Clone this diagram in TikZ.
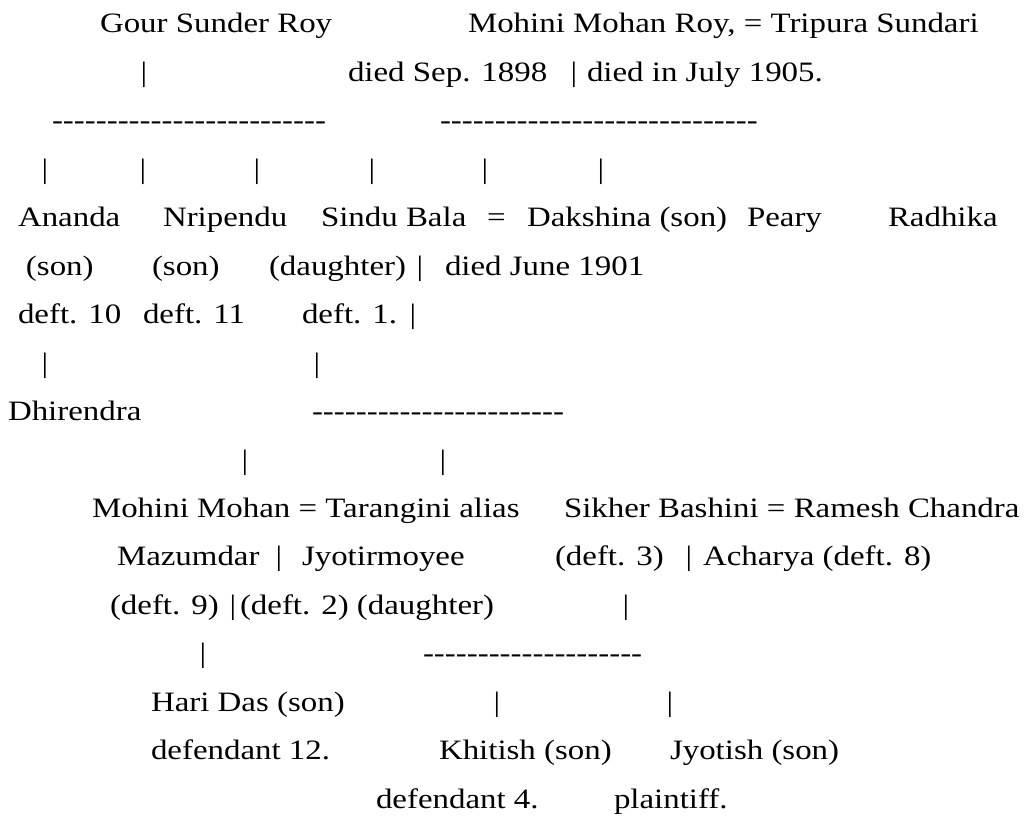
\documentclass[tikz,border=0pt]{standalone}
\usepackage{fontspec}
\newfontfamily\treefont{Liberation Serif}[FakeStretch=1.172]
\begin{document}
\begin{tikzpicture}[x=.75pt,y=-.75pt,font=\treefont\fontsize{21.06}{25}\selectfont,
  every node/.style={inner sep=0pt,outer sep=0pt},
  entry/.style={anchor=base west},vbar/.style={anchor=base}]
  \path[fill=white,use as bounding box] (0,0) rectangle (1024,817);
  \node[entry] (gour) at (100,33) {Gour Sunder Roy};
  \node[entry] (mohini) at (468,33) {Mohini Mohan Roy, = Tripura Sundari};
  \node[vbar] (gourbar) at (144,81.4) {|};
  \node[entry] (mohdied) at (348,81.4) {died Sep. 1898};
  \node[vbar] (mohbar) at (574,81.4) {|};
  \node[entry] (tripdied) at (587,81.4) {died in July 1905.};
  \node[entry] (gourline) at (52,129.9) {-------------------------};
  \node[entry] (mohline) at (440,129.9) {-----------------------------};
  \foreach \x/\n in {45/a,143/b,257/c,372/d,485/e,601/f}
    \node[vbar] (kid\n) at (\x,178.3) {|};
  \node[entry] (ananda) at (18,226.8) {Ananda};
  \node[entry] (nripendu) at (163,226.8) {Nripendu};
  \node[entry] (sindu) at (321,226.8) {Sindu Bala};
  \node[entry] (sindueq) at (487,226.8) {=};
  \node[entry] (dakshina) at (527,226.8) {Dakshina (son)};
  \node[entry] (peary) at (747,226.8) {Peary};
  \node[entry] (radhika) at (888,226.8) {Radhika};
  \node[entry] (anandason) at (26,275.2) {(son)};
  \node[entry] (nripson) at (152,275.2) {(son)};
  \node[entry] (sindudau) at (269,275.2) {(daughter)};
  \node[vbar] (sindubar) at (420,275.2) {|};
  \node[entry] (dakdied) at (445,275.2) {died June 1901};
  \node[entry] (anandadeft) at (18,323.6) {deft. 10};
  \node[entry] (nripdeft) at (143,323.6) {deft. 11};
  \node[entry] (sindudeft) at (302,323.6) {deft. 1.};
  \node[vbar] (sindubarb) at (413,323.6) {|};
  \node[vbar] (anandabar) at (45,372.1) {|};
  \node[vbar] (sindubarc) at (317,372.1) {|};
  \node[entry] (dhirendra) at (8,420.5) {Dhirendra};
  \node[entry] (sinduline) at (312,420.5) {-----------------------};
  \node[vbar] (daua) at (245,469) {|};
  \node[vbar] (daub) at (443,469) {|};
  \node[entry] (mazumdar) at (92,517.4) {Mohini Mohan = Tarangini alias};
  \node[entry] (sikher) at (564,517.4) {Sikher Bashini = Ramesh Chandra};
  \node[entry] (mazumdarb) at (117,565.8) {Mazumdar};
  \node[vbar] (tarbar) at (279,565.8) {|};
  \node[entry] (jyotir) at (302,565.8) {Jyotirmoyee};
  \node[entry] (sikherdeft) at (555,565.8) {(deft. 3)};
  \node[vbar] (sikherbar) at (689,565.8) {|};
  \node[entry] (acharya) at (703,565.8) {Acharya (deft. 8)};
  \node[entry] (mazdeft) at (110,614.3) {(deft. 9)};
  \node[vbar] (tarbarb) at (233,614.3) {|};
  \node[entry] (tardeft) at (240,614.3) {(deft. 2) (daughter)};
  \node[vbar] (sikherbarb) at (626,614.3) {|};
  \node[vbar] (tarbarc) at (203,662.7) {|};
  \node[entry] (sikherline) at (423,662.7) {--------------------};
  \node[entry] (haridas) at (151,711.2) {Hari Das (son)};
  \node[vbar] (sona) at (497,711.2) {|};
  \node[vbar] (sonb) at (670,711.2) {|};
  \node[entry] (harideft) at (151,759.6) {defendant 12.};
  \node[entry] (khitish) at (439,759.6) {Khitish (son)};
  \node[entry] (jyotish) at (670,759.6) {Jyotish (son)};
  \node[entry] (khitdeft) at (376,808) {defendant 4.};
  \node[entry] (plaintiff) at (614,808) {plaintiff.};
\end{tikzpicture}
\end{document}
